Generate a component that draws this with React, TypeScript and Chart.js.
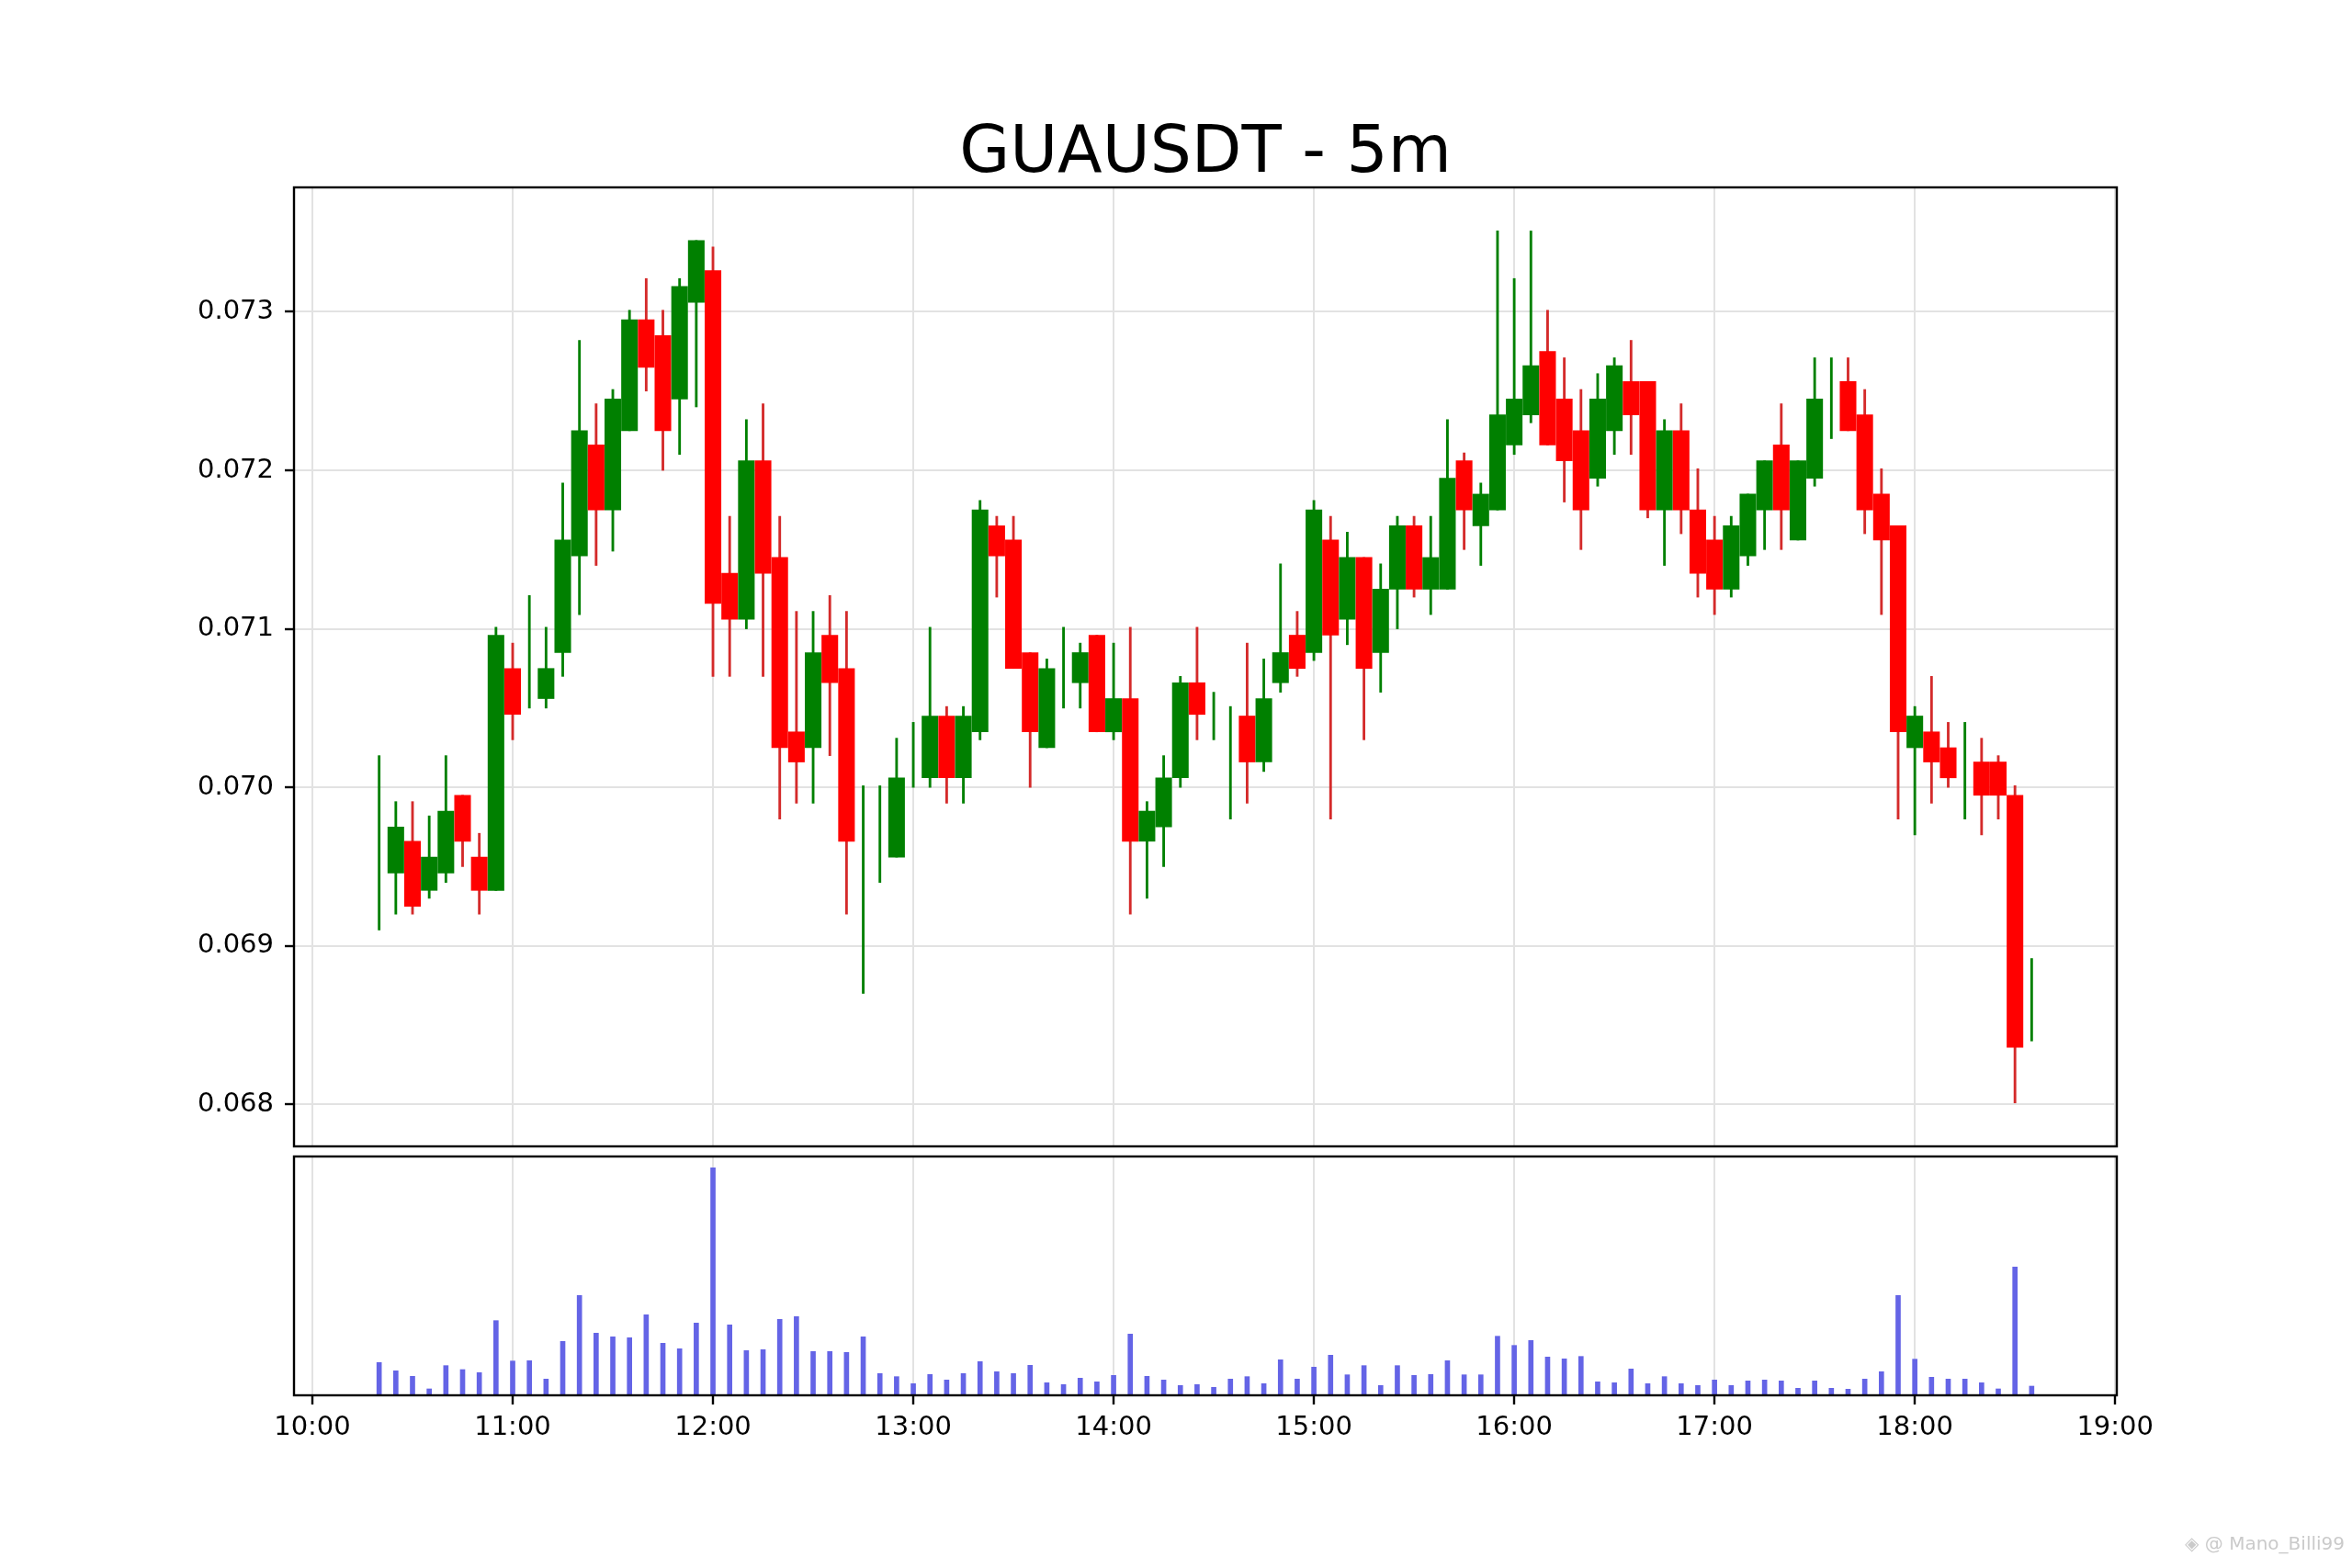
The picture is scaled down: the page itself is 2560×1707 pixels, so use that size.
import { useEffect, useRef } from "react"
import { Chart, registerables } from "chart.js"

Chart.register(...registerables)

// 5 minute candles, 10:20 .. 18:35
const times = [
  "10:20", "10:25", "10:30", "10:35", "10:40", "10:45", "10:50", "10:55",
  "11:00", "11:05", "11:10", "11:15", "11:20", "11:25", "11:30", "11:35", "11:40", "11:45", "11:50", "11:55",
  "12:00", "12:05", "12:10", "12:15", "12:20", "12:25", "12:30", "12:35", "12:40", "12:45", "12:50", "12:55",
  "13:00", "13:05", "13:10", "13:15", "13:20", "13:25", "13:30", "13:35", "13:40", "13:45", "13:50", "13:55",
  "14:00", "14:05", "14:10", "14:15", "14:20", "14:25", "14:30", "14:35", "14:40", "14:45", "14:50", "14:55",
  "15:00", "15:05", "15:10", "15:15", "15:20", "15:25", "15:30", "15:35", "15:40", "15:45", "15:50", "15:55",
  "16:00", "16:05", "16:10", "16:15", "16:20", "16:25", "16:30", "16:35", "16:40", "16:45", "16:50", "16:55",
  "17:00", "17:05", "17:10", "17:15", "17:20", "17:25", "17:30", "17:35", "17:40", "17:45", "17:50", "17:55",
  "18:00", "18:05", "18:10", "18:15", "18:20", "18:25", "18:30", "18:35",
]

const opens = [
  0.0696, 0.06946, 0.06966, 0.06935, 0.06946, 0.06995, 0.06956, 0.06935, 0.07075, 0.07075,
  0.07056, 0.07085, 0.07146, 0.07216, 0.07175, 0.07225, 0.07295, 0.07285, 0.07245, 0.07306,
  0.07326, 0.07135, 0.07106, 0.07206, 0.07145, 0.07035, 0.07025, 0.07096, 0.07075, 0.0696,
  0.0697, 0.06956, 0.0702, 0.07006, 0.07045, 0.07006, 0.07035, 0.07165, 0.07156, 0.07085,
  0.07025, 0.07075, 0.07066, 0.07096, 0.07035, 0.07056, 0.06966, 0.06975, 0.07006, 0.07066,
  0.07045, 0.0702, 0.07045, 0.07016, 0.07066, 0.07096, 0.07085, 0.07156, 0.07106, 0.07145,
  0.07085, 0.07125, 0.07165, 0.07125, 0.07125, 0.07206, 0.07165, 0.07175, 0.07216, 0.07235,
  0.07275, 0.07245, 0.07225, 0.07195, 0.07225, 0.07256, 0.07256, 0.07175, 0.07225, 0.07175,
  0.07156, 0.07125, 0.07146, 0.07175, 0.07216, 0.07156, 0.07195, 0.07245, 0.07256, 0.07235,
  0.07185, 0.07165, 0.07025, 0.07035, 0.07025, 0.0701, 0.07016, 0.07016, 0.06995, 0.0686,
]

const highs = [
  0.0702, 0.06991, 0.06991, 0.06982, 0.0702, 0.06995, 0.06971, 0.07101, 0.07091, 0.07121,
  0.07101, 0.07192, 0.07282, 0.07242, 0.07251, 0.07301, 0.07321, 0.07301, 0.07321, 0.07345,
  0.07341, 0.07171, 0.07232, 0.07242, 0.07171, 0.07111, 0.07111, 0.07121, 0.07111, 0.07001,
  0.07001, 0.07031, 0.07041, 0.07101, 0.07051, 0.07051, 0.07181, 0.07171, 0.07171, 0.07085,
  0.07081, 0.07101, 0.07091, 0.07096, 0.07091, 0.07101, 0.06991, 0.0702, 0.0707, 0.07101,
  0.0706, 0.07051, 0.07091, 0.07081, 0.07141, 0.07111, 0.07181, 0.07171, 0.07161, 0.07145,
  0.07141, 0.07171, 0.07171, 0.07171, 0.07232, 0.07211, 0.07192, 0.07351, 0.07321, 0.07351,
  0.07301, 0.07271, 0.07251, 0.07261, 0.07271, 0.07282, 0.07256, 0.07232, 0.07242, 0.07201,
  0.07171, 0.07171, 0.07185, 0.07206, 0.07242, 0.07206, 0.07271, 0.07271, 0.07271, 0.07251,
  0.07201, 0.07165, 0.07051, 0.0707, 0.07041, 0.07041, 0.07031, 0.0702, 0.07001, 0.06892,
]

const lows = [
  0.0691, 0.0692, 0.0692, 0.0693, 0.0694, 0.0695, 0.0692, 0.06935, 0.0703, 0.0705,
  0.0705, 0.0707, 0.07109, 0.0714, 0.07149, 0.07225, 0.0725, 0.072, 0.0721, 0.0724,
  0.0707, 0.0707, 0.071, 0.0707, 0.0698, 0.0699, 0.0699, 0.0702, 0.0692, 0.0687,
  0.0694, 0.06956, 0.07, 0.07, 0.0699, 0.0699, 0.0703, 0.0712, 0.07075, 0.07,
  0.07025, 0.0705, 0.0705, 0.07035, 0.0703, 0.0692, 0.0693, 0.0695, 0.07, 0.0703,
  0.0703, 0.0698, 0.0699, 0.0701, 0.0706, 0.0707, 0.0708, 0.0698, 0.0709, 0.0703,
  0.0706, 0.071, 0.0712, 0.07109, 0.07125, 0.0715, 0.0714, 0.07175, 0.0721, 0.0723,
  0.07216, 0.0718, 0.0715, 0.0719, 0.0721, 0.0721, 0.0717, 0.0714, 0.0716, 0.0712,
  0.07109, 0.0712, 0.0714, 0.0715, 0.0715, 0.07156, 0.0719, 0.0722, 0.07225, 0.0716,
  0.07109, 0.0698, 0.0697, 0.0699, 0.07, 0.0698, 0.0697, 0.0698, 0.06801, 0.0684,
]

const closes = [
  0.0696, 0.06975, 0.06925, 0.06956, 0.06985, 0.06966, 0.06935, 0.07096, 0.07046, 0.07075,
  0.07075, 0.07156, 0.07225, 0.07175, 0.07245, 0.07295, 0.07265, 0.07225, 0.07316, 0.07345,
  0.07116, 0.07106, 0.07206, 0.07135, 0.07025, 0.07016, 0.07085, 0.07066, 0.06966, 0.0696,
  0.0697, 0.07006, 0.0702, 0.07045, 0.07006, 0.07045, 0.07175, 0.07146, 0.07075, 0.07035,
  0.07075, 0.07075, 0.07085, 0.07035, 0.07056, 0.06966, 0.06985, 0.07006, 0.07066, 0.07046,
  0.07045, 0.0702, 0.07016, 0.07056, 0.07085, 0.07075, 0.07175, 0.07096, 0.07145, 0.07075,
  0.07125, 0.07165, 0.07125, 0.07145, 0.07195, 0.07175, 0.07185, 0.07235, 0.07245, 0.07266,
  0.07216, 0.07206, 0.07175, 0.07245, 0.07266, 0.07235, 0.07175, 0.07225, 0.07175, 0.07135,
  0.07125, 0.07165, 0.07185, 0.07206, 0.07175, 0.07206, 0.07245, 0.07245, 0.07225, 0.07175,
  0.07156, 0.07035, 0.07045, 0.07016, 0.07006, 0.0701, 0.06995, 0.06995, 0.06836, 0.0686,
]

const volumes = [
  107, 80, 62, 21, 97, 84, 74, 244, 112, 113,
  53, 176, 326, 203, 191, 188, 263, 170, 152, 236,
  743, 230, 146, 149, 248, 257, 143, 143, 140, 191,
  71, 61, 38, 68, 50, 71, 110, 77, 71, 98,
  41, 35, 56, 44, 65, 200, 62, 50, 32, 35,
  26, 53, 61, 38, 116, 53, 92, 131, 67, 97,
  32, 97, 65, 68, 113, 67, 67, 193, 163, 179,
  125, 119, 127, 44, 41, 86, 38, 61, 38, 32,
  50, 32, 47, 50, 47, 23, 47, 23, 20, 53,
  77, 326, 118, 59, 53, 53, 41, 21, 419, 30,
]

const hourLabels = ["10:00", "11:00", "12:00", "13:00", "14:00", "15:00", "16:00", "17:00", "18:00", "19:00"]
const priceTicks = [0.068, 0.069, 0.07, 0.071, 0.072, 0.073]

const GREEN = "#008000"
const RED = "#ff0000"
const RED_WICK = "#d42a2a"
const VOL_COLOR = "#6464e6"
const GRID = "#e2e2e2"
const FONT = "DejaVu Sans"

const toMinutes = (t: string) => {
  const [h, m] = t.split(":").map(Number)
  return h * 60 + m
}

const hourValues = hourLabels.map(toMinutes)
const X_MIN = hourValues[0] - 5.5
const X_MAX = hourValues[hourValues.length - 1] + 0.5

const isUp = (i: number) => closes[i] >= opens[i]

// full box round the plot area, like matplotlib spines
const framePlugin = {
  id: "frame",
  afterDraw(chart: Chart) {
    const { ctx, chartArea: a } = chart
    ctx.save()
    ctx.strokeStyle = "#000"
    ctx.lineWidth = 2.4
    ctx.strokeRect(a.left, a.top, a.right - a.left, a.bottom - a.top)
    ctx.restore()
  },
}

const hourTicks = (scale: any) => {
  scale.ticks = hourValues.map((v) => ({ value: v }))
}

export default function App() {
  const priceRef = useRef<HTMLCanvasElement>(null)
  const volRef = useRef<HTMLCanvasElement>(null)

  useEffect(() => {
    if (!priceRef.current || !volRef.current) return

    Chart.defaults.font.family = FONT

    const lo = Math.min(...lows)
    const hi = Math.max(...highs)
    const margin = (hi - lo) * 0.05

    const priceChart = new Chart(priceRef.current, {
      type: "bar",
      data: {
        datasets: [
          {
            label: "wick",
            data: times.map((t, i) => ({ x: toMinutes(t), y: [lows[i], highs[i]] })) as any,
            backgroundColor: (c: any) => (isUp(c.dataIndex) ? GREEN : RED_WICK),
            barThickness: 2.2,
            grouped: false,
            order: 2,
          },
          {
            label: "body",
            data: times.map((t, i) => ({ x: toMinutes(t), y: [opens[i], closes[i]] })) as any,
            // a doji has no body, only its wick
            backgroundColor: (c: any) =>
              opens[c.dataIndex] === closes[c.dataIndex] ? "rgba(0,0,0,0)" : isUp(c.dataIndex) ? GREEN : RED,
            barThickness: 17.4,
            grouped: false,
            order: 1,
          },
        ],
      },
      options: {
        responsive: false,
        animation: false,
        layout: { padding: { left: 190, right: 256, top: 133, bottom: 459 } },
        plugins: {
          legend: { display: false },
          tooltip: { enabled: false },
          title: {
            display: true,
            text: "GUAUSDT - 5m",
            fullSize: false,
            color: "#000",
            font: { family: FONT, size: 71, weight: "normal", lineHeight: 1 },
            padding: { top: 0, bottom: 0 },
          },
        },
        scales: {
          x: {
            type: "linear",
            min: X_MIN,
            max: X_MAX,
            offset: false,
            afterBuildTicks: hourTicks,
            ticks: { display: false },
            grid: { color: GRID, lineWidth: 2, drawTicks: false, offset: false },
            border: { display: false },
            afterFit: (s: any) => {
              s.height = 0
            },
          },
          y: {
            min: lo - margin,
            max: hi + margin,
            afterBuildTicks: (s: any) => {
              s.ticks = priceTicks.map((v) => ({ value: v }))
            },
            ticks: {
              color: "#000",
              font: { family: FONT, size: 29 },
              padding: 12,
              callback: (v: any) => Number(v).toFixed(3),
            },
            grid: { color: GRID, lineWidth: 2, tickColor: "#000", tickLength: 10, tickWidth: 2.4 },
            border: { display: false },
            afterFit: (s: any) => {
              s.width = 130
            },
          },
        },
      },
      plugins: [framePlugin],
    })

    const volChart = new Chart(volRef.current, {
      type: "bar",
      data: {
        datasets: [
          {
            label: "volume",
            data: times.map((t, i) => ({ x: toMinutes(t), y: volumes[i] })) as any,
            backgroundColor: VOL_COLOR,
            barThickness: 5,
          },
        ],
      },
      options: {
        responsive: false,
        animation: false,
        layout: { padding: { left: 320, right: 256, top: 1259, bottom: 88 } },
        plugins: {
          legend: { display: false },
          tooltip: { enabled: false },
        },
        scales: {
          x: {
            type: "linear",
            min: X_MIN,
            max: X_MAX,
            offset: false,
            afterBuildTicks: hourTicks,
            ticks: {
              color: "#000",
              font: { family: FONT, size: 29 },
              padding: 8,
              maxRotation: 0,
              autoSkip: false,
              callback: (v: any) => hourLabels[hourValues.indexOf(Number(v))] ?? "",
            },
            grid: { color: GRID, lineWidth: 2, tickColor: "#000", tickLength: 10, tickWidth: 2.4, offset: false },
            border: { display: false },
            afterFit: (s: any) => {
              s.height = 100
            },
          },
          y: {
            display: false,
            min: 0,
            max: Math.max(...volumes) * 1.05,
          },
        },
      },
      plugins: [framePlugin],
    })

    return () => {
      priceChart.destroy()
      volChart.destroy()
    }
  }, [])

  return (
    <div style={{ position: "fixed", left: 0, top: 0, width: 2560, height: 1707, background: "#fff" }}>
      <canvas ref={priceRef} width={2560} height={1707} style={{ position: "absolute", left: 0, top: 0 }} />
      <canvas ref={volRef} width={2560} height={1707} style={{ position: "absolute", left: 0, top: 0 }} />
      <div
        style={{
          position: "absolute",
          right: 8,
          top: 1668,
          fontFamily: FONT,
          fontSize: 20,
          color: "#cacaca",
          whiteSpace: "nowrap",
        }}
      >
        ◈ @ Mano_Billi99
      </div>
    </div>
  )
}
